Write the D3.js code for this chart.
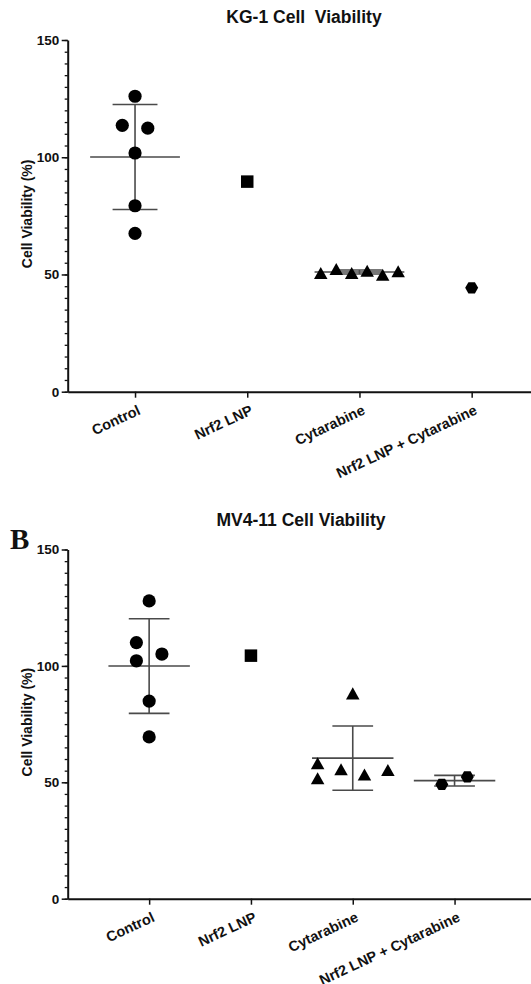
<!DOCTYPE html>
<html>
<head>
<meta charset="utf-8">
<script src="https://cdn.jsdelivr.net/npm/d3@7"></script>
<style>
  body { margin: 0; background: #fff; }
  text { font-family: "Liberation Sans", Arial, sans-serif; font-weight: bold; fill: #111; white-space: pre; }
</style>
</head>
<body>
<svg width="531" height="984"></svg>
<script>
// groups on the x axis
const groups = ["Control", "Nrf2 LNP", "Cytarabine", "Nrf2 LNP + Cytarabine"];

// KG-1 cell viability (%), replicates
const kg1Control = [126.0, 113.6, 112.4, 101.8, 79.3, 67.5];
const kg1Nrf2 = [89.6];
const kg1Cytarabine = [50.6, 52.3, 50.6, 51.6, 49.9, 51.4];
const kg1Combo = [44.3];

// MV4-11 cell viability (%)
const mv4Control = [127.9, 110.0, 105.1, 102.2, 84.9, 69.5];
const mv4Nrf2 = [104.4];
const mv4Cytarabine = [88.2, 58.2, 51.7, 55.6, 53.4, 55.3];
const mv4Combo = [49.1, 52.3];

const yMajorTicks = [0, 50, 100, 150];
const yMinorTicks = d3.range(0, 151, 5);

const svg = d3.select("svg");

// custom marker shapes (size = width in px)
const squareShape = { draw(ctx, w) { ctx.rect(-w / 2, -w / 2, w, w); } };
const triangleShape = { draw(ctx, w) {
  const h = w * 0.89;
  ctx.moveTo(0, -h / 2); ctx.lineTo(w / 2, h / 2); ctx.lineTo(-w / 2, h / 2); ctx.closePath();
} };
const hexShape = { draw(ctx, w) {
  const h = w * 0.87;
  ctx.moveTo(-w / 2, 0); ctx.lineTo(-w / 4, -h / 2); ctx.lineTo(w / 4, -h / 2);
  ctx.lineTo(w / 2, 0); ctx.lineTo(w / 4, h / 2); ctx.lineTo(-w / 4, h / 2); ctx.closePath();
} };
const circleShape = { draw(ctx, w) { ctx.moveTo(w / 2, 0); ctx.arc(0, 0, w / 2, 0, 2 * Math.PI); } };
const shapes = [circleShape, squareShape, triangleShape, hexShape];
const shapeSize = [13.2, 12.5, 13.5, 13];

// spread points that overlap sideways, in rows, like a scatter dot plot
function spreadOffsets(vals, y, step) {
  const rowGap = 13, minDist = 15, sMax = 25.5, maxSpan = 0.69 * step;
  const order = d3.range(vals.length).sort((a, b) => vals[b] - vals[a]);
  const rows = [];
  order.forEach(i => {
    const last = rows[rows.length - 1];
    if (last && Math.abs(y(vals[i]) - y(vals[last[0]])) < rowGap) last.push(i);
    else rows.push([i]);
  });
  rows.forEach(r => r.sort((a, b) => a - b));
  const spacing = n => n > 1 ? Math.min(sMax, maxSpan / (n - 1)) : sMax;
  const half = spacing(d3.max(rows, r => r.length)) / 2;
  const off = new Array(vals.length);
  const placed = [];
  rows.forEach(r => {
    if (r.length > 1) {
      const s = spacing(r.length);
      r.forEach((i, k) => { off[i] = (k - (r.length - 1) / 2) * s; placed.push(i); });
    } else {
      const i = r[0];
      const cands = [0];
      for (let k = 1; k < 8; k++) cands.push(-k * half, k * half);
      off[i] = cands.find(c => placed.every(j =>
        Math.hypot(c - off[j], y(vals[i]) - y(vals[j])) >= minDist)) || 0;
      placed.push(i);
    }
  });
  return off;
}

function drawPanel(p) {
  const g = svg.append("g");
  const x = d3.scalePoint().domain(groups).range([p.left, p.right]).padding(p.pad);
  const y = d3.scaleLinear().domain([0, 150]).range([p.y0, p.y150]);
  const step = x.step();

  // title
  g.append("text").attr("x", p.titleX).attr("y", p.titleY)
    .attr("text-anchor", "middle").style("font-size", "17.5px").text(p.title);

  // y axis: minor then major ticks
  g.append("g").attr("transform", `translate(${p.left},0)`)
    .call(d3.axisLeft(y).tickValues(yMinorTicks).tickSize(3).tickFormat(""))
    .call(a => a.select(".domain").remove())
    .call(a => a.selectAll("line").attr("stroke", "#111").attr("stroke-width", 1.3));
  const ya = g.append("g").attr("transform", `translate(${p.left},0)`)
    .call(d3.axisLeft(y).tickValues(yMajorTicks).tickSize(6).tickPadding(2.5).tickSizeOuter(0));
  ya.select(".domain").attr("stroke", "#111").attr("stroke-width", 2);
  ya.selectAll("line").attr("stroke", "#111").attr("stroke-width", 1.5);
  ya.selectAll("text").style("font-size", "13.5px").attr("fill", "#111");

  g.append("text")
    .attr("transform", `translate(32,${(p.y0 + p.y150) / 2 - 2}) rotate(-90)`)
    .attr("text-anchor", "middle").style("font-size", "14px").text("Cell Viability (%)");

  // x axis
  const xa = g.append("g").attr("transform", `translate(0,${p.y0})`)
    .call(d3.axisBottom(x).tickSize(6).tickSizeOuter(0));
  xa.select(".domain").attr("stroke", "#111").attr("stroke-width", 2);
  xa.selectAll("line").attr("stroke", "#111").attr("stroke-width", 1.5);
  xa.selectAll("text").attr("y", 0).attr("dy", 0)
    .attr("text-anchor", "end").attr("fill", "#111")
    .attr("transform", "translate(6,22) rotate(-25)")
    .style("font-size", "14.5px");

  // mean +/- SD
  const stats = p.values.map((v, i) => ({
    g: groups[i], n: v.length, mean: d3.mean(v), sd: v.length > 1 ? d3.deviation(v) : 0
  })).filter(d => d.n > 1);
  const bars = g.append("g").attr("stroke", "#4a4a4a").attr("stroke-width", 1.6).attr("fill", "none");
  stats.forEach(d => {
    const cx = x(d.g);
    bars.append("line").attr("x1", cx - 0.4 * step).attr("x2", cx + 0.4 * step)
      .attr("y1", y(d.mean)).attr("y2", y(d.mean));
    bars.append("line").attr("x1", cx).attr("x2", cx)
      .attr("y1", y(d.mean + d.sd)).attr("y2", y(d.mean - d.sd));
    [d.mean + d.sd, d.mean - d.sd].forEach(v => {
      bars.append("line").attr("x1", cx - 0.2 * step).attr("x2", cx + 0.2 * step)
        .attr("y1", y(v)).attr("y2", y(v));
    });
  });

  // points
  p.values.forEach((vals, gi) => {
    const off = spreadOffsets(vals, y, step);
    const sym = d3.symbol().type(shapes[gi]).size(shapeSize[gi]);
    g.append("g").selectAll("path").data(vals).join("path")
      .attr("d", sym)
      .attr("transform", (v, i) => `translate(${x(groups[gi]) + off[i]},${y(v)})`)
      .attr("fill", "#000");
  });
}

drawPanel({
  title: "KG-1 Cell  Viability", titleX: 304, titleY: 23,
  values: [kg1Control, kg1Nrf2, kg1Cytarabine, kg1Combo],
  left: 67.7, right: 539, pad: 0.6, y0: 391.7, y150: 40
});

drawPanel({
  title: "MV4-11 Cell Viability", titleX: 301, titleY: 526,
  values: [mv4Control, mv4Nrf2, mv4Cytarabine, mv4Combo],
  left: 67.7, right: 536, pad: 0.8, y0: 898.7, y150: 549.5
});

svg.append("text").attr("x", 10).attr("y", 549)
  .style("font-family", "'Liberation Serif', 'Times New Roman', serif")
  .style("font-size", "29px").attr("fill", "#000").text("B");
</script>
</body>
</html>
